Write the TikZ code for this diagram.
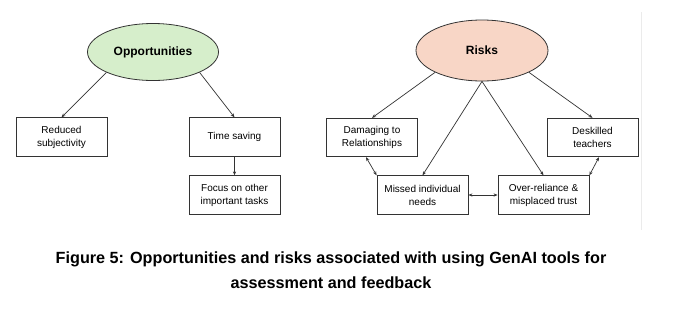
\documentclass[tikz,border=0pt]{standalone}
\usepackage{fontspec}
\setmainfont{Liberation Sans}
\usetikzlibrary{arrows.meta,shapes.geometric,calc}
\definecolor{oppgreen}{HTML}{D6EECB}
\definecolor{riskpeach}{HTML}{F8D6C6}
\definecolor{linecol}{HTML}{333333}
\tikzset{
  headnode/.style={ellipse,draw=linecol,line width=0.8pt,inner sep=0pt,font=\fontsize{12}{14}\selectfont\bfseries},
  boxnode/.style={rectangle,draw=linecol,line width=0.8pt,minimum width=91pt,minimum height=38.5pt,inner sep=1pt,
     align=center,font=\fontsize{10}{13}\selectfont},
  conn/.style={draw=linecol,line width=0.7pt,-{Stealth[length=4pt,width=3.2pt]}},
  dconn/.style={draw=linecol,line width=0.7pt,{Stealth[length=4pt,width=3.2pt]}-{Stealth[length=4pt,width=3.2pt]}},
  captext/.style={font=\fontsize{16.2}{25}\selectfont\bfseries,align=center}
}
\begin{document}
\begin{tikzpicture}[x=1pt,y=-1pt]
\useasboundingbox[fill=white] (0,0) rectangle (685,327);
\draw[color=black!8,line width=0.8pt] (641,12) -- (641,230);
% Opportunities
\node[headnode,fill=oppgreen,minimum width=131pt,minimum height=57pt] (opp) at (153,52) {Opportunities};
\node[boxnode] (red) at (61.5,137) {Reduced\\subjectivity};
\node[boxnode] (time) at (234.5,137) {Time saving};
\node[boxnode] (focus) at (234.5,195) {Focus on other\\important tasks};
\draw[conn] (opp.south west) -- (red.north);
\draw[conn] (opp.south east) -- (time.north);
\draw[conn] (time.south) -- (focus.north);
% Risks
\node[headnode,fill=riskpeach,minimum width=132pt,minimum height=61pt] (risk) at (482,50.5) {Risks};
\node[boxnode] (dam) at (372,137.5) {Damaging to\\Relationships};
\node[boxnode] (desk) at (592.5,137.5) {Deskilled\\teachers};
\node[boxnode] (miss) at (422.5,195) {Missed individual\\needs};
\node[boxnode] (over) at (543.5,195) {Over-reliance \&\\misplaced trust};
\draw[conn] (risk.south west) -- (dam.north);
\draw[conn] (risk.south) -- (miss.north);
\draw[conn] (risk.south) -- (over.north);
\draw[conn] (risk.south east) -- (desk.north);
\draw[dconn] ($(dam.south)+(-6,0)$) -- (miss.north west);
\draw[dconn] ($(desk.south)+(6.5,0)$) -- (over.north east);
\draw[dconn] (miss.east) -- (over.west);
% Caption
\node[captext] (cap) at (331,270) {Figure 5: Opportunities and risks associated with using GenAI tools for\\assessment and feedback};
\end{tikzpicture}
\end{document}
